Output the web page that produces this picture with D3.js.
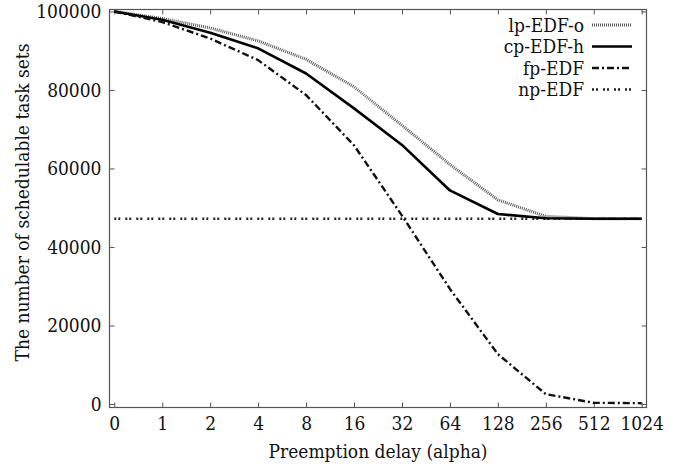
<!DOCTYPE html>
<html>
<head>
<meta charset="utf-8">
<script src="https://cdn.jsdelivr.net/npm/d3@7"></script>
<style>
  body { margin: 0; background: #fff; }
  svg text { font-family: "DejaVu Serif Condensed", "DejaVu Serif", serif; fill: #111; }
</style>
</head>
<body>
<div id="chart"></div>
<script>
// x categories (preemption delay alpha), evenly spaced
const xLabels = ["0", "1", "2", "4", "8", "16", "32", "64", "128", "256", "512", "1024"];

// number of schedulable task sets per series
const lpEdfO = [100000, 98200, 95800, 92500, 87800, 80800, 71000, 61000, 52000, 47800, 47200, 47200];
const cpEdfH = [100000, 97900, 94600, 90600, 84200, 75300, 66000, 54400, 48400, 47300, 47200, 47200];
const fpEdf  = [100000, 97300, 93100, 87600, 78700, 65900, 48000, 29300, 12700, 2500, 300, 200];
const npEdf  = [47200, 47200, 47200, 47200, 47200, 47200, 47200, 47200, 47200, 47200, 47200, 47200];

const yTicks = [0, 20000, 40000, 60000, 80000, 100000];

const width = 681;
const height = 467;
const plot = { left: 109.5, right: 646.5, top: 9.5, bottom: 407.5 };
const fontSize = 19;

const series = [
  { name: "lp-EDF-o", values: lpEdfO, color: "#5a5a5a", dash: "1,1", w: 3 },
  { name: "cp-EDF-h", values: cpEdfH, color: "#000", dash: null, w: 2.6 },
  { name: "fp-EDF", values: fpEdf, color: "#111", dash: "7,3,2,3", w: 2.4 },
  { name: "np-EDF", values: npEdf, color: "#222", dash: "2,2,2,5", w: 2.4 }
];

const svg = d3.select("#chart").append("svg")
  .attr("width", width)
  .attr("height", height);

const xScale = d3.scaleLinear()
  .domain([-0.1, xLabels.length - 1 + 0.1])
  .range([plot.left, plot.right]);

const yScale = d3.scaleLinear()
  .domain([-900, 100500])
  .range([plot.bottom, plot.top]);

// gnuplot-like inward ticks on all four sides
const tickLen = 5;
const axisColor = "#555";

const xIdx = d3.range(xLabels.length);

// bottom ticks + labels
svg.append("g")
  .attr("transform", `translate(0, ${plot.bottom})`)
  .call(d3.axisBottom(xScale)
    .tickValues(xIdx)
    .tickFormat((i) => xLabels[i])
    .tickSizeInner(-tickLen)
    .tickSizeOuter(0)
    .tickPadding(9))
  .call((g) => g.select(".domain").remove())
  .call((g) => g.selectAll("line").attr("stroke", axisColor))
  .call((g) => g.selectAll("text").attr("font-size", fontSize).attr("font-family", null));

// top mirrored ticks
svg.append("g")
  .attr("transform", `translate(0, ${plot.top})`)
  .call(d3.axisTop(xScale).tickValues(xIdx).tickFormat("").tickSizeInner(-tickLen).tickSizeOuter(0))
  .call((g) => g.select(".domain").remove())
  .call((g) => g.selectAll("line").attr("stroke", axisColor));

// left ticks + labels
svg.append("g")
  .attr("transform", `translate(${plot.left}, 0)`)
  .call(d3.axisLeft(yScale).tickValues(yTicks).tickFormat(d3.format("d")).tickSizeInner(-tickLen).tickSizeOuter(0).tickPadding(8))
  .call((g) => g.select(".domain").remove())
  .call((g) => g.selectAll("line").attr("stroke", axisColor))
  .call((g) => g.selectAll("text").attr("font-size", fontSize).attr("font-family", null));

// right mirrored ticks
svg.append("g")
  .attr("transform", `translate(${plot.right}, 0)`)
  .call(d3.axisRight(yScale).tickValues(yTicks).tickFormat("").tickSizeInner(-tickLen).tickSizeOuter(0))
  .call((g) => g.select(".domain").remove())
  .call((g) => g.selectAll("line").attr("stroke", axisColor));

// frame
svg.append("rect")
  .attr("x", plot.left)
  .attr("y", plot.top)
  .attr("width", plot.right - plot.left)
  .attr("height", plot.bottom - plot.top)
  .attr("fill", "none")
  .attr("stroke", axisColor)
  .attr("stroke-width", 1.2);

// lines
const line = d3.line()
  .x((d, i) => xScale(i))
  .y((d) => yScale(d));

const gLines = svg.append("g");
// draw np first so others overlay it
[series[3], series[0], series[1], series[2]].forEach((s) => {
  gLines.append("path")
    .datum(s.values)
    .attr("d", line)
    .attr("fill", "none")
    .attr("stroke", s.color)
    .attr("stroke-width", s.w)
    .attr("stroke-dasharray", s.dash)
    .attr("stroke-linejoin", "round");
});

// legend
const legend = svg.append("g");
series.forEach((s, i) => {
  const y = 25 + i * 21.5;
  legend.append("text")
    .attr("x", 584)
    .attr("y", y)
    .attr("dy", "0.35em")
    .attr("text-anchor", "end")
    .attr("font-size", fontSize)
    .text(s.name);
  legend.append("line")
    .attr("x1", 592)
    .attr("x2", 632)
    .attr("y1", y)
    .attr("y2", y)
    .attr("stroke", s.color)
    .attr("stroke-width", s.w)
    .attr("stroke-dasharray", s.dash);
});

// axis titles
svg.append("text")
  .attr("x", (plot.left + plot.right) / 2)
  .attr("y", 458)
  .attr("text-anchor", "middle")
  .attr("font-size", fontSize)
  .text("Preemption delay (alpha)");

svg.append("text")
  .attr("transform", `translate(22, ${(plot.top + plot.bottom) / 2 - 6}) rotate(-90)`)
  .attr("dy", "0.35em")
  .attr("text-anchor", "middle")
  .attr("font-size", fontSize)
  .text("The number of schedulable task sets");
</script>
</body>
</html>
